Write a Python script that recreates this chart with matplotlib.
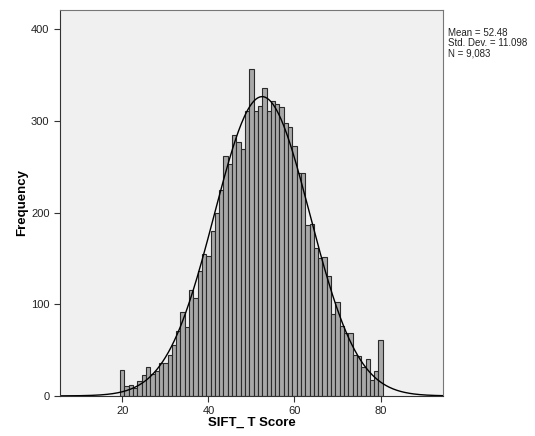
import numpy as np
import matplotlib
matplotlib.use('Agg')
import matplotlib.pyplot as plt

# 数据: 每个分数的频数
scores = list(range(20, 81))
counts = [28, 11, 12, 9, 16, 23, 31, 24, 27, 36,
          36, 45, 55, 71, 91, 75, 115, 107, 136, 155,
          153, 180, 200, 225, 262, 253, 285, 277, 269, 311,
          357, 311, 316, 336, 311, 322, 318, 315, 298, 293,
          273, 243, 243, 186, 187, 161, 150, 152, 131, 89,
          102, 76, 69, 69, 45, 43, 31, 40, 17, 27,
          61]

mean = 52.48
std = 11.098
n = 9083

plt.rcParams['font.family'] = ['Liberation Sans', 'DejaVu Sans']

fig = plt.figure(figsize=(5.35, 4.36), dpi=100)
ax = fig.add_axes([0.112, 0.092, 0.716, 0.885])
ax.set_facecolor('#f0f0f0')

ax.bar(scores, counts, width=1.0, color='#a8a8a8', edgecolor='#2a2a2a', linewidth=0.8)

# 正态曲线
xs = np.linspace(5.5, 94.5, 400)
ys = n * 1.0 / (std * np.sqrt(2 * np.pi)) * np.exp(-0.5 * ((xs - mean) / std) ** 2)
ax.plot(xs, ys, color='black', linewidth=1.0)

ax.set_xlim(5.5, 94.5)
ax.set_ylim(0, 421)
ax.set_xticks([20, 40, 60, 80])
ax.set_yticks([0, 100, 200, 300, 400])
ax.tick_params(axis='both', labelsize=8, length=4, color='#333333', labelcolor='#222222')

for s in ax.spines.values():
    s.set_color('#777777')
ax.spines['left'].set_color('#333333')
ax.spines['bottom'].set_color('#333333')

ax.set_xlabel('SIFT_ T Score', fontsize=9.5, fontweight='bold', labelpad=0)
ax.set_ylabel('Frequency', fontsize=9.5, fontweight='bold', labelpad=2)

fig.text(0.838, 0.935, 'Mean = 52.48\nStd. Dev. = 11.098\nN = 9,083',
         fontsize=7, va='top', ha='left', linespacing=1.0, color='#222222')

fig.savefig('out.png', dpi=100)
